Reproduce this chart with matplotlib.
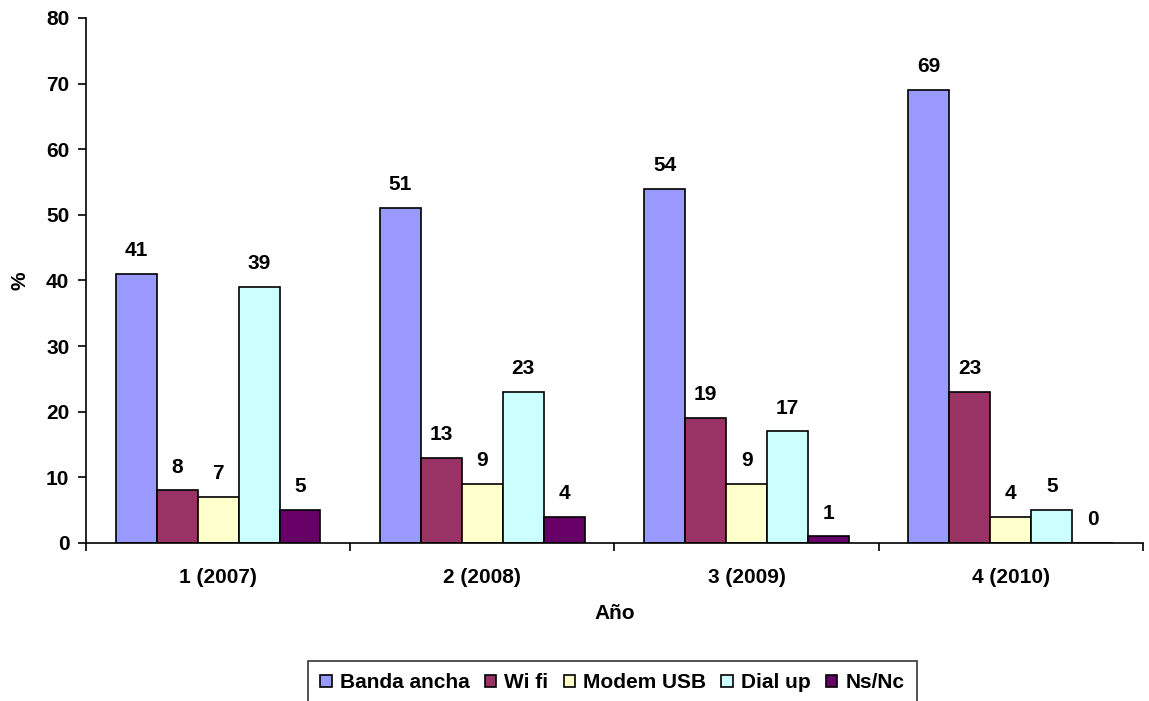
import matplotlib
matplotlib.use("Agg")
import matplotlib.pyplot as plt
import numpy as np

plt.rcParams['font.family'] = ['Liberation Sans', 'DejaVu Sans']
plt.rcParams['font.weight'] = 'bold'

# Data.
years = ["1 (2007)", "2 (2008)", "3 (2009)", "4 (2010)"]
series_names = ["Banda ancha", "Wi fi", "Modem USB", "Dial up", "Ns/Nc"]
banda_ancha = [41, 51, 54, 69]
wi_fi = [8, 13, 19, 23]
modem_usb = [7, 9, 9, 4]
dial_up = [39, 23, 17, 5]
ns_nc = [5, 4, 1, 0]
colors = ["#9999FF", "#993366", "#FFFFCC", "#CCFFFF", "#660066"]

series = [banda_ancha, wi_fi, modem_usb, dial_up, ns_nc]
fs = 15

fig = plt.figure(figsize=(11.49, 7.01), dpi=100)
ax = fig.add_axes([0.0748, 0.2254, 0.92, 0.749])

x = np.arange(len(years))
w = 0.155
for i, (vals, name, c) in enumerate(zip(series, series_names, colors)):
    pos = x + (i - 2) * w
    bars = ax.bar(pos, vals, w, color=c, edgecolor='black', linewidth=1.2, label=name)
    for b, v in zip(bars, vals):
        ax.annotate(str(v), (b.get_x() + b.get_width() / 2, v),
                    xytext=(0, 10), textcoords='offset points',
                    ha='center', va='bottom', fontsize=fs, fontweight='bold')

ax.set_xlim(-0.5, len(years) - 0.5)
ax.set_ylim(0, 80)
ax.set_yticks(range(0, 81, 10))
ax.set_xticks(x)
ax.set_xticklabels(years)
ax.set_xticks(np.arange(-0.5, len(years)), minor=True)
ax.tick_params(axis='x', which='major', length=0, pad=18, labelsize=fs)
ax.tick_params(axis='x', which='minor', length=6, width=1.2, direction='out')
ax.tick_params(axis='y', length=6, width=1.2, direction='out', labelsize=fs, pad=6)

for s in ['top', 'right']:
    ax.spines[s].set_visible(False)
for s in ['left', 'bottom']:
    ax.spines[s].set_linewidth(1.2)

ax.set_xlabel("Año", fontsize=fs, fontweight='bold', labelpad=12)
ax.set_ylabel("%", fontsize=fs, fontweight='bold', labelpad=12)

leg = fig.legend(loc='upper center', bbox_to_anchor=(0.533, 1 - 661 / 701), ncol=5,
                 fontsize=fs, frameon=True, fancybox=False, edgecolor='black',
                 handlelength=0.55, handleheight=0.55, handletextpad=0.4,
                 columnspacing=0.72, borderpad=0.6, borderaxespad=0)
leg.get_frame().set_linewidth(1.2)

fig.savefig("out.png", dpi=100)
